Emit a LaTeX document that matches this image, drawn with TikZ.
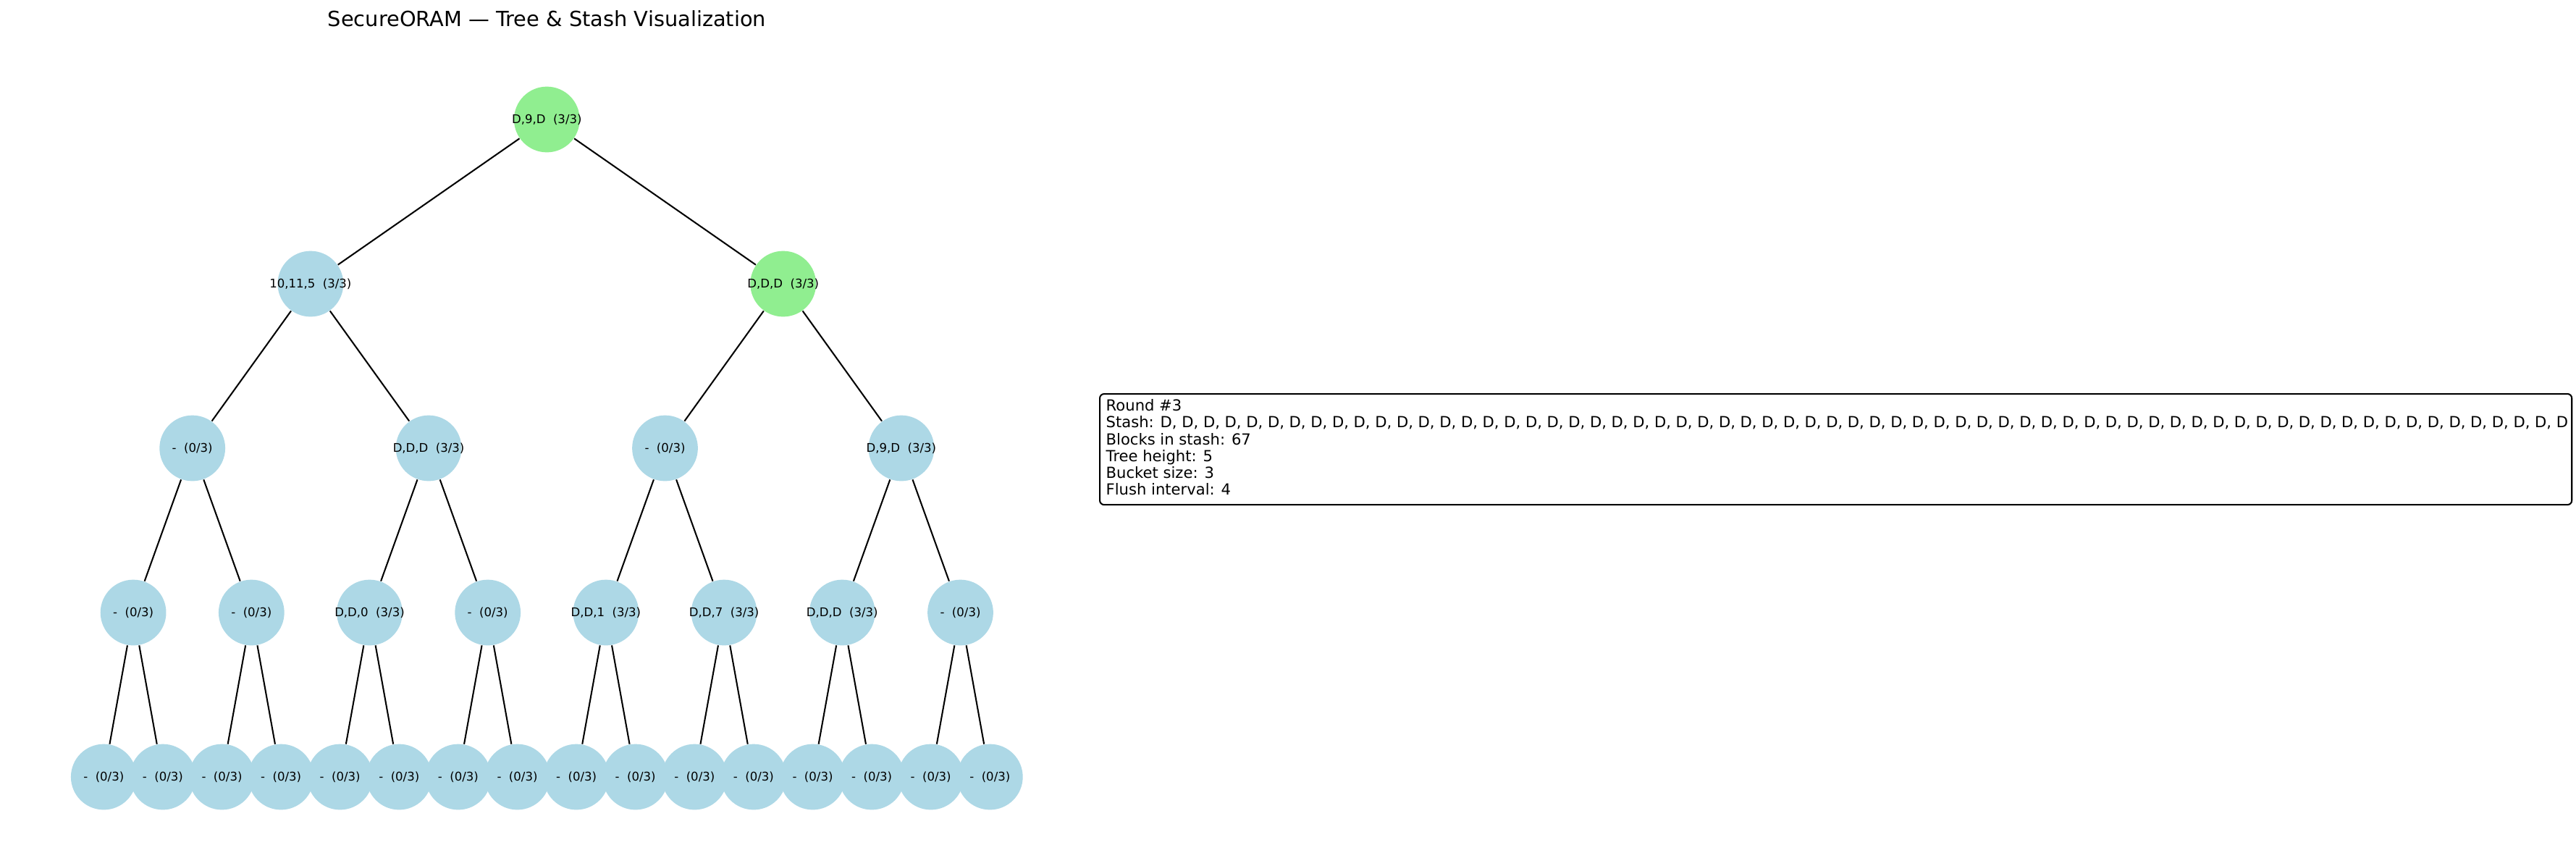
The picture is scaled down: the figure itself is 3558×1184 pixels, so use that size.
\documentclass[tikz,border=0pt]{standalone}
\usepackage{fontspec}
\setmainfont{DejaVu Sans}
\definecolor{lblue}{HTML}{ADD8E6}
\definecolor{lgreen}{HTML}{90EE90}
\newcommand{\blbl}[1]{\makebox[0pt][c]{#1}}
\begin{document}
\begin{tikzpicture}[x=0.01cm,y=-0.01cm,
  bucket/.style={circle,minimum size=0.907cm,inner sep=0pt,fill=lblue,font=\fontsize{4.7pt}{5.6pt}\selectfont},
  full/.style={bucket,fill=lgreen},
  link/.style={line width=0.585pt,black},
  infoline/.style={anchor=base west,inner sep=0pt,font=\fontsize{6pt}{7pt}\selectfont},
  infobox/.style={draw=black,line width=0.585pt,rounded corners=0.06cm,fill=white,inner sep=0pt,anchor=north west,minimum width=20.32cm,minimum height=1.53cm},
  titletext/.style={anchor=base,inner sep=0pt,font=\fontsize{8.2pt}{9.8pt}\selectfont}]
\useasboundingbox (0,0) rectangle (3558,1184);
\fill[white] (0,0) rectangle (3558,1184);

\node[titletext] (title) at (755.5,36.7) {SecureORAM — Tree \& Stash Visualization};

% root
\node[full] (r) at (755.3,165) {\blbl{D,9,D\ \ (3/3)}};
% level 1
\node[bucket] (p0) at (428.9,392) {\blbl{10,11,5\ \ (3/3)}};
\node[full] (p1) at (1081.7,392) {\blbl{D,D,D\ \ (3/3)}};
% level 2
\node[bucket] (n0) at (265.7,619) {\blbl{-\ \ (0/3)}};
\node[bucket] (n1) at (592.1,619) {\blbl{D,D,D\ \ (3/3)}};
\node[bucket] (n2) at (918.5,619) {\blbl{-\ \ (0/3)}};
\node[bucket] (n3) at (1244.9,619) {\blbl{D,9,D\ \ (3/3)}};
% level 3
\node[bucket] (m0) at (184.1,846) {\blbl{-\ \ (0/3)}};
\node[bucket] (m1) at (347.3,846) {\blbl{-\ \ (0/3)}};
\node[bucket] (m2) at (510.5,846) {\blbl{D,D,0\ \ (3/3)}};
\node[bucket] (m3) at (673.7,846) {\blbl{-\ \ (0/3)}};
\node[bucket] (m4) at (836.9,846) {\blbl{D,D,1\ \ (3/3)}};
\node[bucket] (m5) at (1000.1,846) {\blbl{D,D,7\ \ (3/3)}};
\node[bucket] (m6) at (1163.3,846) {\blbl{D,D,D\ \ (3/3)}};
\node[bucket] (m7) at (1326.5,846) {\blbl{-\ \ (0/3)}};
% leaves
\foreach \k in {0,...,15}
  \node[bucket] (l\k) at ({143.3+81.6*\k},1073) {\blbl{-\ \ (0/3)}};

% edges
\draw[link] (r) -- (p0);
\draw[link] (r) -- (p1);
\draw[link] (p0) -- (n0);
\draw[link] (p0) -- (n1);
\draw[link] (p1) -- (n2);
\draw[link] (p1) -- (n3);
\foreach \k in {0,...,3}{
  \pgfmathtruncatemacro\ma{2*\k}
  \pgfmathtruncatemacro\mb{2*\k+1}
  \draw[link] (n\k) -- (m\ma);
  \draw[link] (n\k) -- (m\mb);
}
\foreach \k in {0,...,7}{
  \pgfmathtruncatemacro\la{2*\k}
  \pgfmathtruncatemacro\lb{2*\k+1}
  \draw[link] (m\k) -- (l\la);
  \draw[link] (m\k) -- (l\lb);
}

% info box
\node[infobox] (box) at (1518,543) {};
\node[infoline] (i1) at (1527,567.7) {Round \#3};
\node[infoline] (i2) at (1527,590.9) {Stash: D, D, D, D, D, D, D, D, D, D, D, D, D, D, D, D, D, D, D, D, D, D, D, D, D, D, D, D, D, D, D, D, D, D, D, D, D, D, D, D, D, D, D, D, D, D, D, D, D, D, D, D, D, D, D, D, D, D, D, D, D, D, D, D, D, D};
\node[infoline] (i3) at (1527,614.1) {Blocks in stash: 67};
\node[infoline] (i4) at (1527,637.3) {Tree height: 5};
\node[infoline] (i5) at (1527,660.5) {Bucket size: 3};
\node[infoline] (i6) at (1527,683.7) {Flush interval: 4};
\end{tikzpicture}
\end{document}
